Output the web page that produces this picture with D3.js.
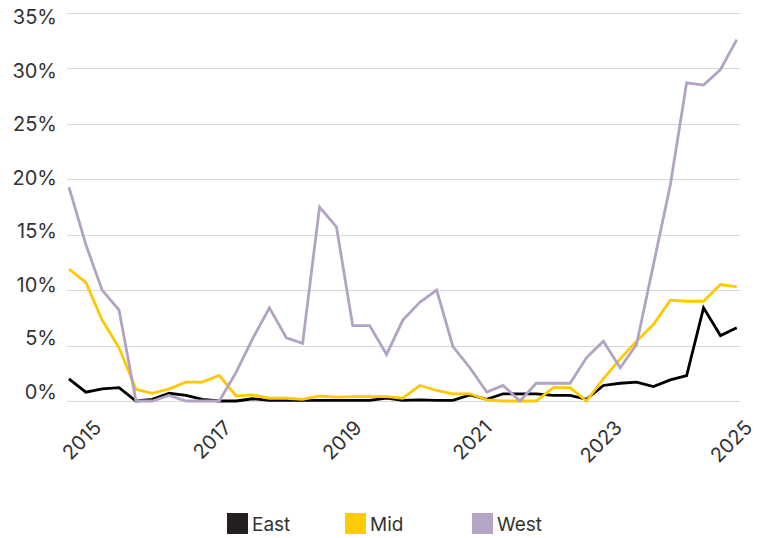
<!DOCTYPE html>
<html>
<head>
<meta charset="utf-8">
<script src="https://cdn.jsdelivr.net/npm/d3@7"></script>
<style>
  html, body { margin: 0; padding: 0; background: #fff; }
  svg { display: block; font-family: Inter, "Noto Sans", sans-serif; }
</style>
</head>
<body>
<svg id="chart" width="760" height="538"></svg>
<script>
// Observation times, as fractional years
const period = [
  2014.69, 2014.95, 2015.20, 2015.46, 2015.72, 2015.97, 2016.23, 2016.49, 2016.74, 2017.00,
  2017.26, 2017.51, 2017.77, 2018.03, 2018.28, 2018.54, 2018.80, 2019.05, 2019.31, 2019.57,
  2019.82, 2020.08, 2020.34, 2020.59, 2020.85, 2021.11, 2021.36, 2021.62, 2021.87, 2022.13,
  2022.39, 2022.64, 2022.90, 2023.16, 2023.41, 2023.67, 2023.93, 2024.18, 2024.44, 2024.70,
  2024.95
];

// Share by region, in percent
const east = [
  2.0, 0.8, 1.1, 1.2, 0.0, 0.15, 0.7, 0.5, 0.15, 0.0,
  0.0, 0.2, 0.05, 0.05, 0.05, 0.05, 0.05, 0.05, 0.05, 0.25,
  0.05, 0.1, 0.05, 0.05, 0.55, 0.15, 0.65, 0.65, 0.65, 0.5,
  0.5, 0.15, 1.4, 1.6, 1.7, 1.3, 1.9, 2.3, 8.4, 5.9,
  6.6
];
const mid = [
  11.9, 10.7, 7.3, 4.8, 1.05, 0.7, 1.1, 1.7, 1.7, 2.3,
  0.45, 0.55, 0.25, 0.25, 0.15, 0.45, 0.35, 0.4, 0.4, 0.4,
  0.25, 1.4, 0.95, 0.65, 0.65, 0.1, 0.0, 0.0, 0.0, 1.2,
  1.2, 0.0, 2.0, 3.8, 5.4, 6.9, 9.1, 9.0, 9.0, 10.5,
  10.3
];
const west = [
  19.3, 14.1, 10.0, 8.2, 0.0, 0.0, 0.5, 0.0, 0.0, 0.0,
  2.6, 5.6, 8.4, 5.7, 5.2, 17.5, 15.7, 6.8, 6.8, 4.2,
  7.3, 8.9, 10.0, 4.9, 3.0, 0.8, 1.4, 0.0, 1.6, 1.6,
  1.6, 3.9, 5.4, 3.0, 5.1, 12.3, 19.5, 28.7, 28.5, 29.9,
  32.6
];

const seriesNames = ["East", "Mid", "West"];
const seriesValues = [east, mid, west];
const lineColors = ["#000000", "#ffc800", "#b3a3c3"];
const swatchColors = ["#231f20", "#ffcb05", "#b5a4c4"];

const yTicks = [0, 5, 10, 15, 20, 25, 30, 35];
const xTicks = [2015, 2017, 2019, 2021, 2023, 2025];

const svg = d3.select("#chart");

const x = d3.scaleLinear().domain([2014.66, 2025.0]).range([67, 740]);
const y = d3.scaleLinear().domain([0, 35]).range([401, 13]);
// value labels sit on a slightly tighter spacing than the grid
const labelY = d3.scaleLinear().domain([0, 35]).range([392, 17]);

// horizontal grid
svg.append("g")
  .selectAll("line")
  .data(yTicks)
  .join("line")
  .attr("x1", x.range()[0])
  .attr("x2", x.range()[1])
  .attr("y1", d => Math.round(y(d)) + 0.5)
  .attr("y2", d => Math.round(y(d)) + 0.5)
  .attr("stroke", "#d8d8d8")
  .attr("stroke-width", 1.2);

// y labels
svg.append("g")
  .selectAll("text")
  .data(yTicks)
  .join("text")
  .attr("x", 57)
  .attr("y", d => labelY(d))
  .attr("text-anchor", "end")
  .attr("dominant-baseline", "central")
  .attr("fill", "#333")
  .attr("font-size", 20)
  .text(d => d + "%");

// x axis with rotated year labels
const xAxis = svg.append("g")
  .attr("transform", `translate(0, ${y(0)})`)
  .call(d3.axisBottom(x).tickValues(xTicks).tickFormat(d3.format("d")).tickSize(0));
xAxis.select(".domain").remove();
xAxis.selectAll("text")
  .attr("fill", "#333")
  .attr("font-size", 20)
  .attr("font-family", "Inter, 'Noto Sans', sans-serif")
  .attr("text-anchor", "end")
  .attr("dy", null)
  .attr("y", null)
  .attr("transform", "translate(13, 28) rotate(-45)");

// series lines
const line = d3.line()
  .x((d, i) => x(period[i]))
  .y(d => y(d));

svg.append("g")
  .selectAll("path")
  .data(seriesValues)
  .join("path")
  .attr("d", d => line(d))
  .attr("fill", "none")
  .attr("stroke", (d, i) => lineColors[i])
  .attr("stroke-width", 2.8)
  .attr("stroke-linejoin", "miter")
  .attr("stroke-linecap", "butt");

// legend
const legendX = [227, 345, 472];
const legend = svg.append("g")
  .selectAll("g")
  .data(seriesNames)
  .join("g")
  .attr("transform", (d, i) => `translate(${legendX[i]}, 513)`);
legend.append("rect")
  .attr("width", 21)
  .attr("height", 21)
  .attr("fill", (d, i) => swatchColors[i]);
legend.append("text")
  .attr("x", 25)
  .attr("y", 18)
  .attr("fill", "#333")
  .attr("font-size", 19)
  .text(d => d);
</script>
</body>
</html>
